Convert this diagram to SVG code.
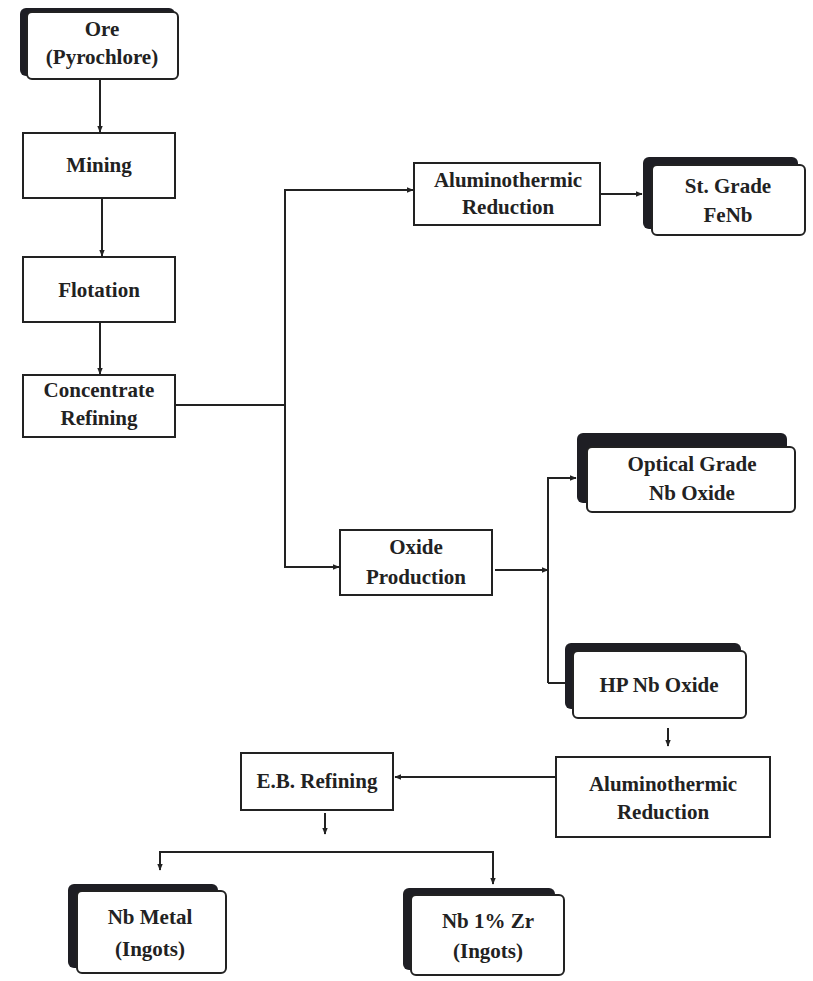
<svg xmlns="http://www.w3.org/2000/svg" width="813" height="981" viewBox="0 0 813 981">
<defs>
<marker id="ah" viewBox="0 0 10 10" refX="9" refY="5" markerWidth="7" markerHeight="7" markerUnits="userSpaceOnUse" orient="auto">
<path d="M0,1 L10,5 L0,9 Z" fill="#222"/>
</marker>
</defs>
<style>
.bx{fill:#fff;stroke:#222;stroke-width:2}
.sh{fill:#1e1e24}
.card{fill:#fff;stroke:#222;stroke-width:2}
.t{font-family:"Liberation Serif","Times New Roman",serif;font-weight:bold;font-size:21px;fill:#222;text-anchor:middle}
.c{fill:none;stroke:#222;stroke-width:2}
</style>
<rect width="813" height="981" fill="#fff"/>
<g id="connectors">
<path class="c" d="M100,79 V132" marker-end="url(#ah)"/>
<path class="c" d="M102,198 V256" marker-end="url(#ah)"/>
<path class="c" d="M100,322 V374" marker-end="url(#ah)"/>
<path class="c" d="M175,405 H284"/>
<path class="c" d="M285,405 V190 H413" marker-end="url(#ah)"/>
<path class="c" d="M285,405 V567 H339" marker-end="url(#ah)"/>
<path class="c" d="M600,194 H642" marker-end="url(#ah)"/>
<path class="c" d="M495,570 H548" marker-end="url(#ah)"/>
<path class="c" d="M548,683 V478 H576" marker-end="url(#ah)"/>
<path class="c" d="M548,683 H566"/>
<path class="c" d="M668,728 V746" marker-end="url(#ah)"/>
<path class="c" d="M555,777 H395" marker-end="url(#ah)"/>
<path class="c" d="M325,813 V834" marker-end="url(#ah)"/>
<path class="c" d="M160,870 V852 H493 V884" marker-end="url(#ah)"/>
<path class="c" d="M160,852 V870" marker-end="url(#ah)"/>
</g>
<g id="ore">
<rect class="sh" x="20" y="8" width="155" height="68" rx="6"/>
<rect class="card" x="27" y="12" width="151" height="67" rx="5"/>
<text class="t" x="102" y="36">Ore</text>
<text class="t" x="102" y="64">(Pyrochlore)</text>
</g>
<g id="mining">
<rect class="bx" x="23" y="133" width="152" height="65"/>
<text class="t" x="99" y="172">Mining</text>
</g>
<g id="flotation">
<rect class="bx" x="23" y="257" width="152" height="65"/>
<text class="t" x="99" y="297">Flotation</text>
</g>
<g id="concentrate">
<rect class="bx" x="23" y="375" width="152" height="62"/>
<text class="t" x="99" y="397">Concentrate</text>
<text class="t" x="99" y="425">Refining</text>
</g>
<g id="alred1">
<rect class="bx" x="414" y="163" width="186" height="62"/>
<text class="t" x="508" y="187">Aluminothermic</text>
<text class="t" x="508" y="214">Reduction</text>
</g>
<g id="stgrade">
<rect class="sh" x="643" y="157" width="155" height="72" rx="6"/>
<rect class="card" x="652" y="165" width="153" height="70" rx="5"/>
<text class="t" x="728" y="193">St. Grade</text>
<text class="t" x="728" y="222">FeNb</text>
</g>
<g id="optical">
<rect class="sh" x="577" y="433" width="210" height="70" rx="6"/>
<rect class="card" x="587" y="447" width="208" height="65" rx="5"/>
<text class="t" x="692" y="471">Optical Grade</text>
<text class="t" x="692" y="500">Nb Oxide</text>
</g>
<g id="oxide">
<rect class="bx" x="340" y="530" width="152" height="65"/>
<text class="t" x="416" y="554">Oxide</text>
<text class="t" x="416" y="584">Production</text>
</g>
<g id="hp">
<rect class="sh" x="565" y="643" width="176" height="66" rx="6"/>
<rect class="card" x="573" y="651" width="173" height="67" rx="5"/>
<text class="t" x="659" y="692">HP Nb Oxide</text>
</g>
<g id="alred2">
<rect class="bx" x="556" y="757" width="214" height="80"/>
<text class="t" x="663" y="791">Aluminothermic</text>
<text class="t" x="663" y="819">Reduction</text>
</g>
<g id="ebref">
<rect class="bx" x="241" y="753" width="152" height="57"/>
<text class="t" x="317" y="788">E.B. Refining</text>
</g>
<g id="nbmetal">
<rect class="sh" x="68" y="884" width="150" height="84" rx="6"/>
<rect class="card" x="77" y="891" width="149" height="82" rx="5"/>
<text class="t" x="150" y="924">Nb Metal</text>
<text class="t" x="150" y="956">(Ingots)</text>
</g>
<g id="nbzr">
<rect class="sh" x="403" y="888" width="152" height="82" rx="6"/>
<rect class="card" x="411" y="895" width="153" height="80" rx="5"/>
<text class="t" x="488" y="928">Nb 1% Zr</text>
<text class="t" x="488" y="958">(Ingots)</text>
</g>
</svg>
